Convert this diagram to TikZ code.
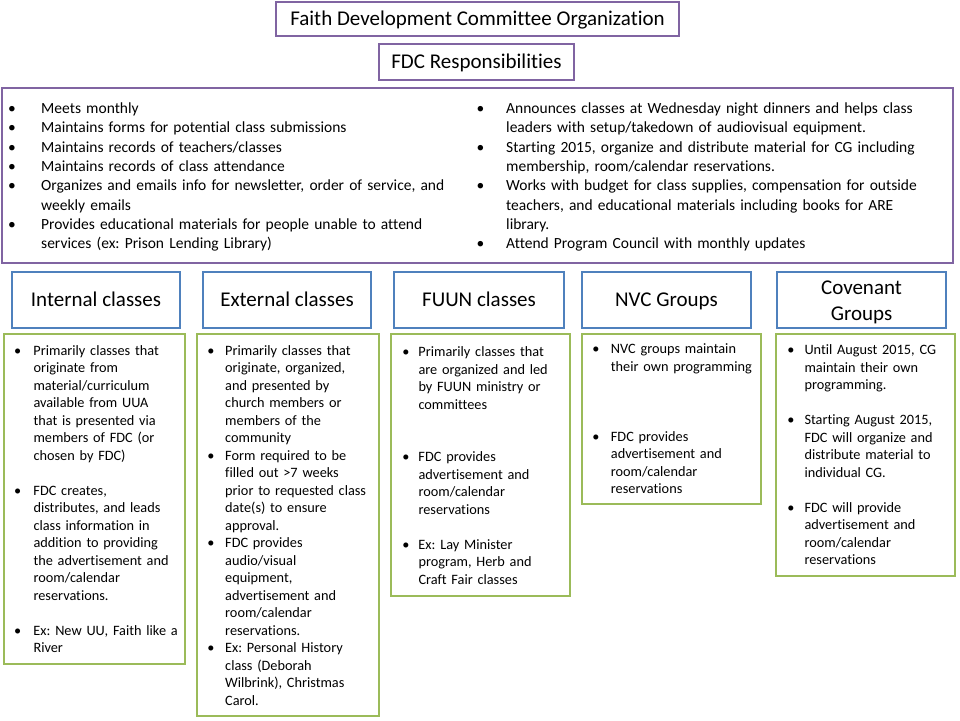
\documentclass[tikz,border=0pt]{standalone}
\usepackage{fontspec}
\setmainfont[Ligatures=NoCommon]{Carlito}
\frenchspacing
\definecolor{fdcpurple}{HTML}{8064A2}
\definecolor{fdcblue}{HTML}{4F81BD}
\definecolor{fdcgreen}{HTML}{9BBB59}
\newlength\bulind
\newcommand{\bul}[1]{\ifvmode\noindent\fi\hangindent=\bulind\hangafter=1\makebox[\bulind][l]{\textbullet}#1\par}
\newcommand{\blanklines}[1]{\vspace{#1\baselineskip}}
\begin{document}
\begin{tikzpicture}[x=1pt,y=-1pt,
  pbox/.style={draw=fdcpurple, line width=2.6pt, fill=white, inner sep=0pt, font=\fontsize{21}{26}\selectfont},
  bbox/.style={draw=fdcblue, line width=2.2pt, inner sep=0pt, font=\fontsize{21}{26}\selectfont, align=center},
  onel/.style={text height=13.5pt, text depth=0pt},
  gbox/.style={draw=fdcgreen, line width=2.6pt, inner sep=0pt},
  gtext/.style={anchor=base west, inner sep=0pt, text width=250pt, font=\fontsize{14.3}{17.5}\selectfont},
  rtext/.style={anchor=base west, inner sep=0pt, text width=470pt, font=\fontsize{15.5}{19.3}\selectfont}]
\fill[white] (0,0) rectangle (960,720);
\useasboundingbox (0,0) rectangle (960,720);

% top boxes
\node[pbox, onel, minimum width=403pt, minimum height=34pt] (title) at (477.5,19) {Faith Development Committee Organization};
\node[pbox, onel, minimum width=195pt, minimum height=36pt] (resp) at (476.5,62) {FDC Responsibilities};
\node[pbox, minimum width=951pt, minimum height=175pt] (big) at (477.5,175.5) {};

\node[rtext] (respL) at (8,113.5) {\setlength\bulind{33pt}%
\bul{Meets monthly}
\bul{Maintains forms for potential  class submissions}
\bul{Maintains records of teachers/classes}
\bul{Maintains records of class attendance}
\bul{Organizes and emails info for newsletter, order of service, and\newline weekly emails}
\bul{Provides educational materials for people unable to attend\newline services (ex: Prison Lending Library)}};

\node[rtext] (respR) at (476.5,113.5) {\setlength\bulind{29.5pt}%
\bul{Announces  classes at Wednesday night dinners and helps class\newline leaders with setup/takedown  of audiovisual equipment.}
\bul{Starting 2015, organize and distribute material for CG including\newline membership, room/calendar reservations.}
\bul{Works with budget for class supplies, compensation for outside\newline teachers, and educational materials including books for ARE\newline library.}
\bul{Attend Program Council with monthly updates}};

% headers
\node[bbox, onel, minimum width=168pt, minimum height=56pt] (hInt) at (96,300) {Internal classes};
\node[bbox, onel, minimum width=168pt, minimum height=56pt] (hExt) at (287,300) {External classes};
\node[bbox, onel, minimum width=170pt, minimum height=56pt] (hFuun) at (479,300) {FUUN classes};
\node[bbox, onel, minimum width=169pt, minimum height=56pt] (hNvc) at (666.5,300) {NVC Groups};
\node[bbox, minimum width=169pt, minimum height=56pt] (hCov) at (861.5,300) {};
\node[inner sep=0pt, font=\fontsize{21}{26}\selectfont, align=center] (hCovT) at (861.5,302) {Covenant\\Groups};

% green boxes
\node[gbox, minimum width=181pt, minimum height=330pt] (gInt) at (94.5,499) {};
\node[gbox, minimum width=182pt, minimum height=382pt] (gExt) at (288,525) {};
\node[gbox, minimum width=179pt, minimum height=262pt] (gFuun) at (480.5,465) {};
\node[gbox, minimum width=179pt, minimum height=170pt] (gNvc) at (671.5,419) {};
\node[gbox, minimum width=179pt, minimum height=242pt] (gCov) at (865.5,455) {};

\node[gtext] (tInt) at (13.9,355) {\setlength\bulind{19.4pt}%
\bul{Primarily classes that\newline originate from\newline material/curriculum\newline available from UUA\newline that is presented via\newline members of FDC (or\newline chosen by FDC)}
\blanklines{1}
\bul{FDC creates,\newline distributes, and leads\newline class information in\newline addition to providing\newline the advertisement and\newline room/calendar\newline reservations.}
\blanklines{1}
\bul{Ex: New UU, Faith like a\newline River}};

\node[gtext] (tExt) at (207.1,355) {\setlength\bulind{17.9pt}%
\bul{Primarily classes that\newline originate, organized,\newline and presented by\newline church members or\newline members of the\newline community}
\bul{Form required to be\newline filled out >7 weeks\newline prior to requested class\newline date(s)  to ensure\newline approval.}
\bul{FDC provides\newline audio/visual\newline equipment,\newline advertisement and\newline room/calendar\newline reservations.}
\bul{Ex: Personal History\newline class (Deborah\newline Wilbrink), Christmas\newline Carol.}};

\node[gtext] (tFuun) at (402.1,356.5) {\setlength\bulind{16.2pt}%
\bul{Primarily classes that\newline are organized and led\newline by FUUN ministry or\newline committees}
\blanklines{2}
\bul{FDC provides\newline advertisement and\newline room/calendar\newline reservations}
\blanklines{1}
\bul{Ex: Lay Minister\newline program, Herb and\newline Craft Fair classes}};

\node[gtext] (tNvc) at (592.1,353.5) {\setlength\bulind{18.6pt}%
\bul{NVC groups maintain\newline their own programming}
\blanklines{3}
\bul{FDC provides\newline advertisement and\newline room/calendar\newline reservations}};

\node[gtext] (tCov) at (787.1,354.5) {\setlength\bulind{17.2pt}%
\bul{Until August 2015,  CG\newline maintain their own\newline programming.}
\blanklines{1}
\bul{Starting August 2015,\newline FDC will organize and\newline distribute material to\newline individual CG.}
\blanklines{1}
\bul{FDC will provide\newline advertisement and\newline room/calendar\newline reservations}};
\end{tikzpicture}
\end{document}
